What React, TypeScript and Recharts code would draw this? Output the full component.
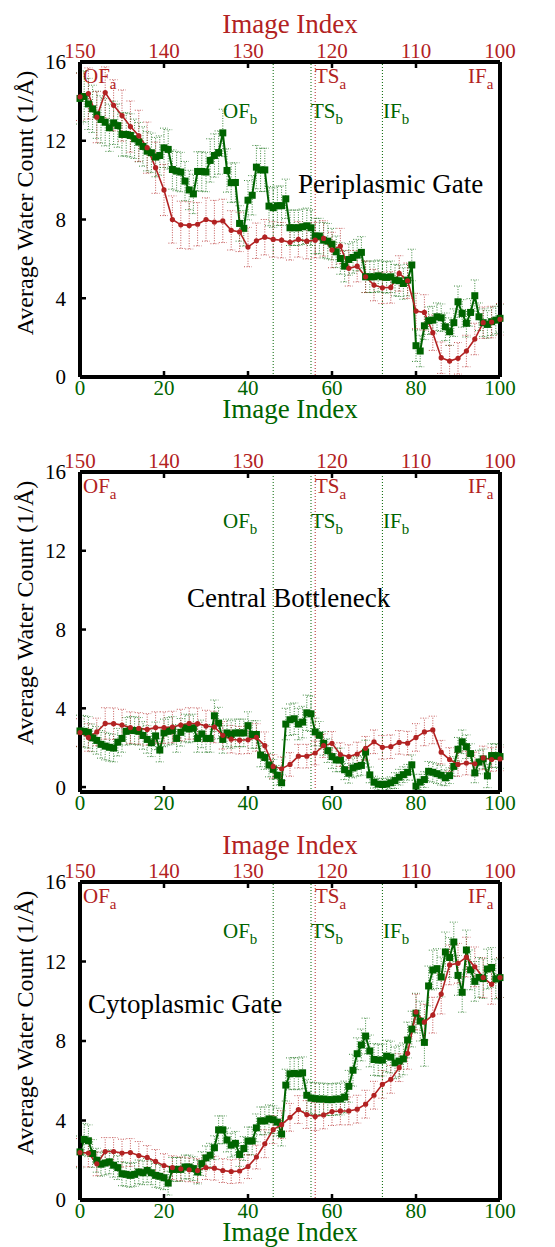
import React from 'react';
import {
  LineChart,
  Line,
  XAxis,
  YAxis,
  ErrorBar,
  ReferenceLine,
  Customized,
} from 'recharts';

const RED = '#b22222';
const GREEN = '#006400';
const FONT = '"Liberation Serif", "Times New Roman", serif';

const bottomTicks = [0, 20, 40, 60, 80, 100];
const topTicks = [150, 140, 130, 120, 110, 100];
const yTicks = [0, 4, 8, 12, 16];

// red path runs on the top axis, one point per image 150 -> 100
const topIndex = [
  150, 149, 148, 147, 146, 145, 144, 143, 142, 141, 140, 139, 138, 137, 136, 135, 134,
  133, 132, 131, 130, 129, 128, 127, 126, 125, 124, 123, 122, 121, 120, 119, 118, 117,
  116, 115, 114, 113, 112, 111, 110, 109, 108, 107, 106, 105, 104, 103, 102, 101, 100,
];

// periplasmic gate
const periGreen = [
  14.15, 14.25, 13.87, 13.62, 13.32, 13.08, 12.94, 12.66, 12.91, 12.77,
  12.32, 12.32, 12.27, 12.1, 11.93, 11.71, 11.47, 11.39, 11.17, 11.25,
  11.64, 11.56, 10.54, 10.46, 10.41, 9.95, 9.5, 9.3, 10.44, 10.44,
  10.41, 11.0, 11.25, 11.4, 12.4, 10.49, 9.87, 9.88, 7.8, 7.55,
  8.98, 9.23, 10.66, 10.52, 10.52, 8.68, 8.6, 8.7, 8.7, 9.05,
  7.58, 7.58, 7.58, 7.63, 7.68, 7.58, 7.16, 7.16, 6.95, 6.9,
  6.75, 6.36, 6.02, 5.63, 5.97, 6.07, 6.19, 6.33, 5.09, 5.09,
  5.09, 5.14, 5.09, 5.06, 5.09, 4.92, 4.89, 4.75, 4.92, 5.69,
  1.59, 1.32, 2.6, 2.86, 2.89, 3.06, 3.01, 2.55, 2.3, 2.76,
  3.82, 3.23, 2.73, 3.28, 4.13, 3.06, 2.76, 2.67, 2.81, 2.89,
  2.98,
];
const periGreenErr = [
  1.3, 1.3, 1.3, 1.2, 1.2, 1.2, 1.2, 1.2, 1.1, 1.1,
  1.1, 1.1, 1.1, 1.0, 1.0, 1.0, 1.0, 1.0, 1.0, 1.0,
  1.0, 1.0, 1.0, 1.0, 1.0, 1.0, 1.0, 1.0, 1.0, 1.0,
  1.0, 1.1, 1.1, 1.1, 1.2, 1.1, 1.0, 1.0, 0.9, 0.9,
  1.0, 1.0, 1.1, 1.1, 1.1, 1.0, 1.0, 1.0, 1.0, 1.0,
  0.9, 0.9, 0.9, 0.9, 0.9, 0.9, 0.9, 0.9, 0.9, 0.9,
  0.8, 0.8, 0.8, 0.8, 0.8, 0.8, 0.8, 0.8, 0.8, 0.8,
  0.8, 0.8, 0.8, 0.8, 0.8, 0.8, 0.8, 0.8, 0.8, 0.8,
  0.8, 0.8, 0.7, 0.7, 0.7, 0.7, 0.7, 0.7, 0.7, 0.7,
  0.8, 0.7, 0.7, 0.7, 0.8, 0.7, 0.7, 0.7, 0.7, 0.7,
  0.7,
];
const periRed = [
  14.23, 14.4, 13.2, 14.45, 13.8, 13.28, 12.72, 12.25, 11.65, 10.63,
  9.5, 8.0, 7.73, 7.7, 7.76, 8.0, 7.87, 7.93, 7.45, 7.37,
  6.6, 6.92, 7.1, 6.99, 6.95, 6.84, 6.99, 6.9, 6.95, 7.04,
  6.45, 6.65, 5.52, 5.63, 5.09, 4.67, 4.53, 4.55, 5.26, 4.89,
  3.35, 3.28, 2.25, 0.98, 0.81, 0.95, 1.32, 1.93, 2.76, 2.79,
  2.93,
];
const periRedErr = [
  1.2, 1.3, 1.3, 1.3, 1.3, 1.3, 1.3, 1.3, 1.3, 1.3,
  1.3, 1.2, 1.2, 1.2, 1.1, 1.1, 1.1, 1.1, 1.0, 1.0,
  1.0, 0.9, 0.9, 0.9, 0.9, 0.9, 0.9, 0.9, 0.9, 0.9,
  0.9, 0.9, 0.9, 0.8, 0.8, 0.8, 0.8, 0.8, 0.9, 0.9,
  0.9, 0.9, 0.9, 0.8, 0.8, 0.8, 0.8, 0.8, 0.8, 0.8,
  0.8,
];

// central bottleneck
const bottGreen = [
  2.85, 2.83, 2.78, 2.5, 2.37, 2.17, 2.08, 2.02, 1.98, 2.28,
  2.47, 2.83, 2.88, 2.87, 2.83, 2.62, 2.42, 2.25, 2.6, 1.88,
  2.75, 2.83, 2.88, 2.47, 2.78, 3.0, 2.95, 3.0, 2.47, 2.7,
  2.47, 2.47, 3.62, 3.25, 2.42, 2.75, 2.67, 2.75, 2.75, 2.75,
  3.12, 2.67, 2.67, 1.63, 1.5, 1.12, 0.9, 0.6, 0.22, 3.2,
  3.42, 3.47, 3.2, 3.3, 3.77, 3.72, 2.8, 2.63, 2.22, 1.85,
  1.55, 1.38, 1.38, 0.88, 0.7, 0.97, 1.05, 1.1, 1.78, 0.62,
  0.25, 0.15, 0.13, 0.15, 0.22, 0.33, 0.5, 0.63, 0.75, 1.13,
  0.05, 0.25, 0.38, 0.8, 0.75, 0.68, 0.6, 0.47, 0.58, 1.05,
  1.92, 2.3, 2.05, 1.7, 0.72, 1.27, 1.43, 0.57, 1.6, 1.6,
  1.55,
];
const bottGreenErr = [
  0.8, 0.8, 0.8, 0.7, 0.7, 0.7, 0.7, 0.7, 0.7, 0.7,
  0.7, 0.7, 0.7, 0.7, 0.7, 0.7, 0.7, 0.7, 0.7, 0.6,
  0.7, 0.7, 0.7, 0.7, 0.7, 0.7, 0.7, 0.7, 0.7, 0.7,
  0.7, 0.7, 0.8, 0.8, 0.7, 0.7, 0.7, 0.7, 0.7, 0.7,
  0.7, 0.7, 0.7, 0.6, 0.6, 0.6, 0.5, 0.5, 0.4, 0.8,
  0.8, 0.8, 0.8, 0.8, 0.9, 0.9, 0.7, 0.7, 0.6, 0.6,
  0.6, 0.6, 0.6, 0.5, 0.5, 0.5, 0.5, 0.5, 0.6, 0.4,
  0.3, 0.3, 0.3, 0.3, 0.3, 0.4, 0.4, 0.4, 0.4, 0.5,
  0.3, 0.4, 0.4, 0.5, 0.5, 0.5, 0.5, 0.4, 0.4, 0.5,
  0.6, 0.6, 0.6, 0.5, 0.5, 0.6, 0.5, 0.6, 0.6, 0.6,
  0.6,
];
const bottRed = [
  2.77, 2.52, 2.8, 3.23, 3.22, 3.15, 3.02, 2.98, 2.93, 3.02,
  3.02, 3.05, 3.15, 3.23, 3.22, 3.1, 3.05, 2.63, 2.43, 2.38,
  2.4, 2.52, 2.1, 1.05, 0.93, 1.15, 1.57, 1.57, 1.73, 2.1,
  2.22, 1.65, 1.55, 1.68, 1.97, 2.3, 2.02, 2.05, 2.27, 2.23,
  2.52, 2.8, 2.9, 1.77, 1.4, 1.15, 1.22, 1.18, 1.48, 1.4,
  1.43,
];
const bottRedErr = [
  0.7, 0.7, 0.7, 0.8, 0.8, 0.8, 0.8, 0.8, 0.8, 0.8,
  0.8, 0.8, 0.8, 0.8, 0.8, 0.8, 0.8, 0.7, 0.7, 0.7,
  0.7, 0.7, 0.7, 0.6, 0.6, 0.6, 0.6, 0.6, 0.6, 0.6,
  0.6, 0.6, 0.6, 0.6, 0.6, 0.6, 0.6, 0.6, 0.6, 0.6,
  0.7, 0.7, 0.7, 0.6, 0.6, 0.6, 0.6, 0.6, 0.6, 0.6,
  0.6,
];

// cytoplasmic gate
const cytoGreen = [
  2.42, 3.05, 2.98, 2.34, 2.0, 1.8, 1.86, 1.92, 1.75, 1.63,
  1.32, 1.29, 1.24, 1.29, 1.41, 1.37, 1.49, 1.37, 1.24, 1.19,
  1.12, 0.85, 1.54, 1.54, 1.54, 1.66, 1.66, 1.58, 1.41, 1.83,
  2.12, 2.25, 2.63, 3.53, 3.53, 3.02, 2.76, 2.85, 2.29, 2.59,
  2.97, 2.97, 3.63, 3.98, 3.98, 4.08, 4.04, 3.92, 3.32, 5.78,
  6.35, 6.37, 6.35, 6.4, 5.27, 5.13, 5.1, 5.08, 5.08, 5.05,
  5.05, 5.08, 5.08, 5.18, 5.72, 6.53, 7.36, 7.8, 8.25, 7.5,
  7.07, 7.04, 7.04, 7.24, 7.19, 6.9, 6.99, 7.1, 8.05, 8.6,
  9.4, 9.0, 7.93, 10.77, 11.57, 11.64, 11.22, 12.48, 12.2, 12.98,
  11.3, 10.45, 12.58, 11.58, 11.0, 11.2, 11.14, 11.62, 11.7, 11.12,
  11.19,
];
const cytoGreenErr = [
  0.8, 0.8, 0.8, 0.7, 0.6, 0.6, 0.6, 0.6, 0.6, 0.6,
  0.6, 0.6, 0.6, 0.6, 0.6, 0.6, 0.6, 0.6, 0.6, 0.6,
  0.6, 0.6, 0.6, 0.6, 0.6, 0.6, 0.6, 0.6, 0.6, 0.6,
  0.6, 0.6, 0.6, 0.7, 0.7, 0.6, 0.6, 0.6, 0.6, 0.6,
  0.7, 0.7, 0.7, 0.7, 0.7, 0.7, 0.7, 0.7, 0.6, 0.8,
  0.8, 0.8, 0.8, 0.8, 0.8, 0.8, 0.8, 0.8, 0.8, 0.8,
  0.8, 0.8, 0.8, 0.8, 0.8, 0.8, 0.8, 0.8, 0.9, 0.8,
  0.8, 0.8, 0.8, 0.8, 0.8, 0.8, 0.8, 0.8, 0.9, 0.9,
  1.0, 1.0, 1.2, 1.0, 1.0, 1.0, 1.0, 1.0, 1.0, 1.0,
  1.0, 1.0, 1.0, 1.0, 1.0, 1.0, 1.0, 1.0, 1.0, 1.0,
  1.0,
];
const cytoRed = [
  2.39, 2.36, 1.82, 2.44, 2.44, 2.36, 2.39, 2.24, 2.14, 1.94,
  1.73, 1.63, 1.57, 1.52, 1.48, 1.63, 1.6, 1.48, 1.43, 1.46,
  1.68, 2.16, 2.83, 3.54, 3.79, 4.16, 4.55, 4.3, 4.2, 4.28,
  4.45, 4.48, 4.48, 4.57, 4.82, 5.27, 5.82, 6.07, 6.66, 7.38,
  9.46, 8.95, 9.3, 10.36, 11.83, 11.91, 12.22, 11.73, 11.19, 10.85,
  11.19,
];
const cytoRedErr = [
  0.7, 0.7, 0.6, 0.7, 0.7, 0.7, 0.7, 0.7, 0.6, 0.6,
  0.6, 0.6, 0.6, 0.6, 0.6, 0.6, 0.6, 0.6, 0.6, 0.6,
  0.6, 0.6, 0.7, 0.7, 0.7, 0.7, 0.7, 0.7, 0.7, 0.7,
  0.7, 0.7, 0.7, 0.7, 0.7, 0.7, 0.7, 0.7, 0.7, 0.8,
  0.9, 0.9, 0.9, 1.0, 1.0, 1.0, 1.0, 1.0, 1.0, 1.0,
  1.0,
];

// state markers: green ones on the bottom axis, red one on the top axis
const greenStates = [46, 55, 72];
const redStates = [122];

type PanelProps = {
  green: number[];
  greenErr: number[];
  red: number[];
  redErr: number[];
  title: string;
  titleX: number;
  titleY: number;
  height: number;
  margin: { top: number; bottom: number };
  topTitleY: number | null;
  bottomTitle: boolean;
};

const Sub = ({ x, y, main, sub, color }: { x: number; y: number; main: string; sub: string; color: string }) => (
  <text x={x} y={y} fill={color} fontSize={21} fontFamily={FONT}>
    {main}
    <tspan dy={6} fontSize={15}>{sub}</tspan>
  </text>
);

function Panel(p: PanelProps) {
  const greenData = p.green.map((y, i) => ({ x: i, y, e: p.greenErr[i] }));
  const redData = p.red.map((y, i) => ({ x: topIndex[i], y, e: p.redErr[i] }));
  const T = p.margin.top + 20;
  const B = p.height - p.margin.bottom - 20;

  const overlay = () => (
    <g fontFamily={FONT}>
      {p.topTitleY !== null && (
        <text x={290} y={p.topTitleY} textAnchor="middle" fill={RED} fontSize={27}>Image Index</text>
      )}
      {p.bottomTitle && (
        <text x={290} y={B + 41} textAnchor="middle" fill={GREEN} fontSize={27}>Image Index</text>
      )}
      <text
        x={33}
        y={T + 141}
        transform={`rotate(-90 33 ${T + 141})`}
        textAnchor="middle"
        fontSize={24}
        fill="#000"
      >
        Average Water Count (1/Å)
      </text>
      <text x={p.titleX} y={p.titleY} fontSize={27} fill="#000">{p.title}</text>
      <Sub x={83} y={T + 21} main="OF" sub="a" color={RED} />
      <Sub x={315} y={T + 21} main="TS" sub="a" color={RED} />
      <Sub x={468} y={T + 21} main="IF" sub="a" color={RED} />
      <Sub x={223} y={T + 56} main="OF" sub="b" color={GREEN} />
      <Sub x={311} y={T + 56} main="TS" sub="b" color={GREEN} />
      <Sub x={383} y={T + 56} main="IF" sub="b" color={GREEN} />
    </g>
  );

  return (
    <LineChart
      width={555}
      height={p.height}
      margin={{ top: p.margin.top, right: 45, bottom: p.margin.bottom, left: 30 }}
    >
      <XAxis
        xAxisId="b"
        dataKey="x"
        type="number"
        domain={[0, 100]}
        ticks={bottomTicks}
        interval={0}
        height={20}
        axisLine={{ stroke: '#000', strokeWidth: 4 }}
        tickLine={{ stroke: '#000', strokeWidth: 2.5 }}
        tickSize={-6}
        tickMargin={9}
        tick={{ fill: GREEN, fontSize: 21, fontFamily: FONT }}
      />
      <XAxis
        xAxisId="t"
        dataKey="x"
        type="number"
        orientation="top"
        domain={[100, 150]}
        reversed
        ticks={topTicks}
        interval={0}
        height={20}
        axisLine={{ stroke: '#000', strokeWidth: 4 }}
        tickLine={{ stroke: '#000', strokeWidth: 2.5 }}
        tickSize={-6}
        tickMargin={10}
        tick={{ fill: RED, fontSize: 21, fontFamily: FONT }}
      />
      <YAxis
        yAxisId="l"
        type="number"
        domain={[0, 16]}
        ticks={yTicks}
        interval={0}
        width={50}
        axisLine={{ stroke: '#000', strokeWidth: 4 }}
        tickLine={{ stroke: '#000', strokeWidth: 2.5 }}
        tickSize={-6}
        tickMargin={20}
        tick={{ fill: '#000', fontSize: 21, fontFamily: FONT }}
      />
      <YAxis
        yAxisId="r"
        orientation="right"
        type="number"
        domain={[0, 16]}
        ticks={yTicks}
        interval={0}
        width={10}
        axisLine={{ stroke: '#000', strokeWidth: 4 }}
        tickLine={{ stroke: '#000', strokeWidth: 2.5 }}
        tickSize={-6}
        tick={false}
      />
      {greenStates.map((s) => (
        <ReferenceLine
          key={`g${s}`}
          x={s}
          xAxisId="b"
          yAxisId="l"
          stroke={GREEN}
          strokeWidth={1}
          strokeDasharray="1 2"
        />
      ))}
      {redStates.map((s) => (
        <ReferenceLine
          key={`r${s}`}
          x={s}
          xAxisId="t"
          yAxisId="l"
          stroke={RED}
          strokeWidth={1}
          strokeDasharray="1 2"
        />
      ))}
      <Line
        data={greenData}
        xAxisId="b"
        yAxisId="l"
        dataKey="y"
        type="linear"
        stroke={GREEN}
        strokeWidth={2}
        isAnimationActive={false}
        dot={(d: any) => (
          <rect key={`gd${d.index}`} x={d.cx - 3.5} y={d.cy - 3.5} width={7} height={7} fill={GREEN} />
        )}
        activeDot={false}
      >
        <ErrorBar dataKey="e" direction="y" width={4} stroke={GREEN} strokeWidth={1} strokeDasharray="1 1.5" strokeOpacity={0.75} />
      </Line>
      <Line
        data={redData}
        xAxisId="t"
        yAxisId="l"
        dataKey="y"
        type="linear"
        stroke={RED}
        strokeWidth={1.6}
        isAnimationActive={false}
        dot={{ r: 2.6, fill: RED, stroke: RED, strokeWidth: 0 }}
        activeDot={false}
      >
        <ErrorBar dataKey="e" direction="y" width={4} stroke={RED} strokeWidth={1} strokeDasharray="1 1.5" strokeOpacity={0.75} />
      </Line>
      <Customized component={overlay} />
    </LineChart>
  );
}

export default function App() {
  return (
    <div
      style={{
        position: 'absolute',
        left: 0,
        top: 0,
        width: 555,
        height: 1247,
        background: '#fff',
        fontFamily: FONT,
      }}
    >
      <div style={{ position: 'absolute', left: 0, top: 0 }}>
        <Panel
          green={periGreen}
          greenErr={periGreenErr}
          red={periRed}
          redErr={periRedErr}
          title="Periplasmic Gate"
          titleX={298}
          titleY={193}
          height={430}
          margin={{ top: 42, bottom: 33 }}
          topTitleY={33}
          bottomTitle
        />
      </div>
      <div style={{ position: 'absolute', left: 0, top: 430 }}>
        <Panel
          green={bottGreen}
          greenErr={bottGreenErr}
          red={bottRed}
          redErr={bottRedErr}
          title="Central Bottleneck"
          titleX={187}
          titleY={177}
          height={390}
          margin={{ top: 22, bottom: 8 }}
          topTitleY={null}
          bottomTitle={false}
        />
      </div>
      <div style={{ position: 'absolute', left: 0, top: 820 }}>
        <Panel
          green={cytoGreen}
          greenErr={cytoGreenErr}
          red={cytoRed}
          redErr={cytoRedErr}
          title="Cytoplasmic Gate"
          titleX={88}
          titleY={193}
          height={427}
          margin={{ top: 42, bottom: 27 }}
          topTitleY={34}
          bottomTitle
        />
      </div>
    </div>
  );
}
